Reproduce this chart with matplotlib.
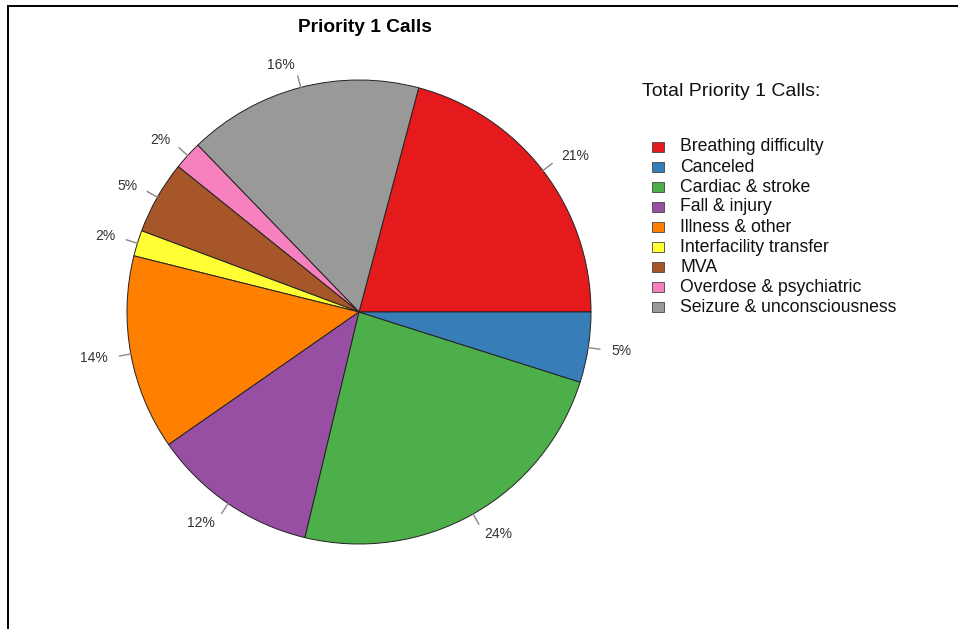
import numpy as np
import matplotlib.pyplot as plt
from matplotlib.patches import Rectangle
from matplotlib.lines import Line2D

plt.rcParams['font.family'] = ['Liberation Sans', 'DejaVu Sans']

# categories in legend (alphabetical) order
categories = ['Breathing difficulty', 'Canceled', 'Cardiac & stroke', 'Fall & injury',
              'Illness & other', 'Interfacility transfer', 'MVA',
              'Overdose & psychiatric', 'Seizure & unconsciousness']
shares = [20.9, 4.9, 23.9, 11.6, 13.6, 1.8, 5.1, 2.0, 16.4]
colors = ['#E41A1C', '#377EB8', '#4DAF4A', '#984EA3', '#FF7F00',
          '#FFFF33', '#A65628', '#F781BF', '#999999']

# order the slices go round the pie, counter-clockwise from 3 o'clock
pie_order = ['Breathing difficulty', 'Seizure & unconsciousness', 'Overdose & psychiatric',
             'MVA', 'Interfacility transfer', 'Illness & other', 'Fall & injury',
             'Cardiac & stroke', 'Canceled']

idx = [categories.index(c) for c in pie_order]
vals = [shares[i] for i in idx]
cols = [colors[i] for i in idx]
total = sum(shares)
labels = [f'{round(v / total * 100):.0f}%' for v in vals]

W, H = 958, 629
fig = plt.figure(figsize=(W / 100, H / 100), dpi=100)

# pie axes: centre at (359, 312) px, radius 232 px
cx, cy, r_px = 359, 312, 232
L = 1.3
half = L * r_px
ax = fig.add_axes([(cx - half) / W, (H - cy - half) / H, 2 * half / W, 2 * half / H])

wedges, texts = ax.pie(vals, colors=cols, startangle=0, counterclock=True,
                       labels=labels, labeldistance=1.1,
                       wedgeprops={'edgecolor': '#222222', 'linewidth': 0.7},
                       textprops={'fontsize': 10, 'color': '#333333'})

for w in wedges:
    mid = np.deg2rad((w.theta1 + w.theta2) / 2)
    ax.plot([np.cos(mid), 1.05 * np.cos(mid)], [np.sin(mid), 1.05 * np.sin(mid)],
            color='#888888', linewidth=1.0)

ax.set_xlim(-L, L)
ax.set_ylim(-L, L)
ax.set_aspect('equal')
ax.axis('off')

fig.text(365 / W, 1 - 28 / H, 'Priority 1 Calls', ha='center', va='center',
         fontsize=13.8, fontweight='bold')

# legend
fig.text(642 / W, 1 - 91 / H, 'Total Priority 1 Calls:', ha='left', va='center',
         fontsize=14, color='#111111')
y0, step = 147, 20
for i, (name, col) in enumerate(zip(categories, colors)):
    y = y0 + i * step
    fig.patches.append(Rectangle((652 / W, 1 - (y + 5) / H), 12 / W, 10 / H,
                                 transform=fig.transFigure, facecolor=col,
                                 edgecolor='#444444', linewidth=0.6))
    fig.text(680 / W, 1 - y / H, name, ha='left', va='center', fontsize=12.7,
             color='#111111')

# frame lines along top and left
fig.add_artist(Line2D([8 / W, 1], [1 - 5.5 / H, 1 - 5.5 / H], transform=fig.transFigure,
                      color='black', linewidth=1.4))
fig.add_artist(Line2D([8 / W, 8 / W], [0, 1 - 5.5 / H], transform=fig.transFigure,
                      color='black', linewidth=1.4))

fig.savefig('out.png', dpi=100)
